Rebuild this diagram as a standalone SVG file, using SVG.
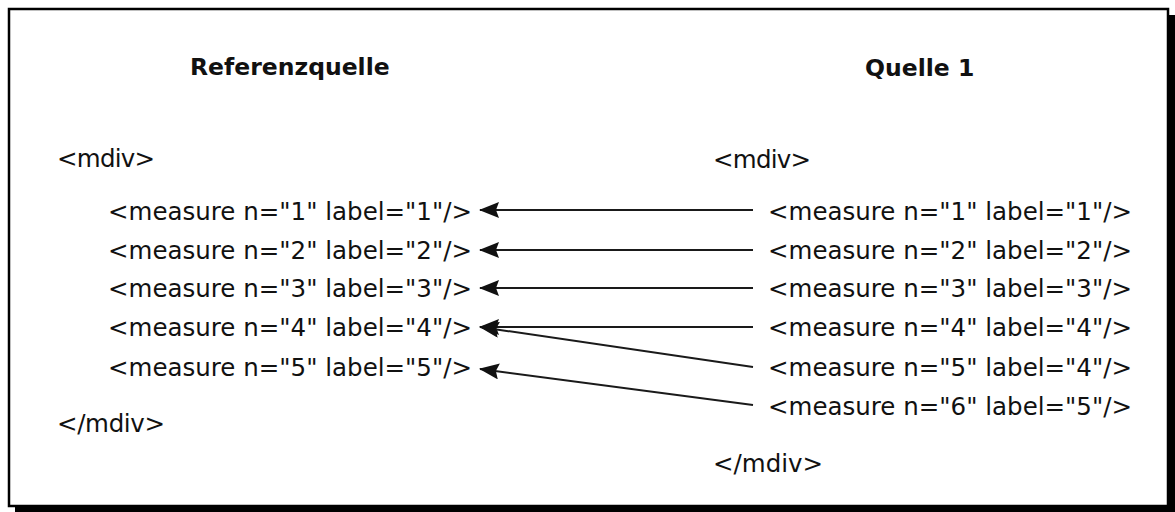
<svg xmlns="http://www.w3.org/2000/svg" width="1175" height="512" viewBox="0 0 1175 512">
  <style>
    .code { font-family: "DejaVu Sans", "Liberation Sans", sans-serif; font-size: 24.5px; fill: #111; }
    .title { font-family: "DejaVu Sans", "Liberation Sans", sans-serif; font-size: 23.5px; font-weight: bold; fill: #111; }
    .link { stroke: #1a1a1a; stroke-width: 2; fill: none; marker-end: url(#head); }
  </style>
  <defs>
    <marker id="head" viewBox="0 0 20 16" refX="19" refY="8" markerWidth="20" markerHeight="16" markerUnits="userSpaceOnUse" orient="auto">
      <path d="M0,0 L20,8 L0,16 L3,8 z" fill="#111"/>
    </marker>
  </defs>

  <!-- frame with drop shadow -->
  <rect x="15" y="15" width="1160" height="497" fill="#000"/>
  <rect x="9" y="9" width="1159" height="497" fill="#fff" stroke="#000" stroke-width="2.5"/>

  <!-- left column: reference source -->
  <g id="ref">
    <text class="title" x="190" y="75">Referenzquelle</text>
    <text class="code" x="57" y="167" textLength="98">&lt;mdiv&gt;</text>
    <text class="code" x="108" y="220" textLength="364">&lt;measure n="1" label="1"/&gt;</text>
    <text class="code" x="108" y="259" textLength="364">&lt;measure n="2" label="2"/&gt;</text>
    <text class="code" x="108" y="297" textLength="364">&lt;measure n="3" label="3"/&gt;</text>
    <text class="code" x="108" y="336" textLength="364">&lt;measure n="4" label="4"/&gt;</text>
    <text class="code" x="108" y="376" textLength="364">&lt;measure n="5" label="5"/&gt;</text>
    <text class="code" x="57" y="432" textLength="108">&lt;/mdiv&gt;</text>
  </g>

  <!-- right column: source 1 -->
  <g id="src1">
    <text class="title" x="865" y="76">Quelle 1</text>
    <text class="code" x="713" y="168" textLength="98">&lt;mdiv&gt;</text>
    <text class="code" x="768" y="220" textLength="364">&lt;measure n="1" label="1"/&gt;</text>
    <text class="code" x="768" y="259" textLength="364">&lt;measure n="2" label="2"/&gt;</text>
    <text class="code" x="768" y="297" textLength="364">&lt;measure n="3" label="3"/&gt;</text>
    <text class="code" x="768" y="336" textLength="364">&lt;measure n="4" label="4"/&gt;</text>
    <text class="code" x="768" y="376" textLength="364">&lt;measure n="5" label="4"/&gt;</text>
    <text class="code" x="768" y="415" textLength="364">&lt;measure n="6" label="5"/&gt;</text>
    <text class="code" x="713" y="472" textLength="110">&lt;/mdiv&gt;</text>
  </g>

  <!-- concordance links -->
  <g id="links">
    <line class="link" x1="753" y1="210" x2="480" y2="210"/>
    <line class="link" x1="753" y1="250" x2="480" y2="250"/>
    <line class="link" x1="753" y1="288" x2="480" y2="288"/>
    <line class="link" x1="753" y1="327" x2="480" y2="327"/>
    <line class="link" x1="753" y1="367" x2="480" y2="327"/>
    <line class="link" x1="753" y1="405" x2="480" y2="369"/>
  </g>
</svg>
